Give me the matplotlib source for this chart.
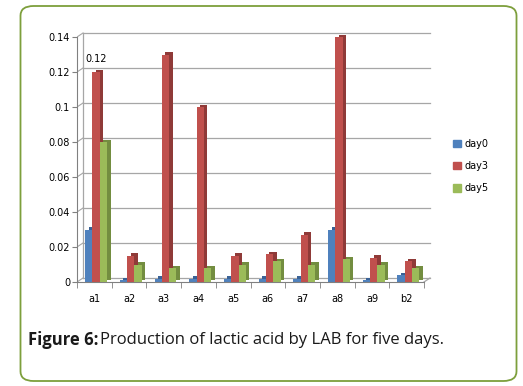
import numpy as np
import matplotlib
matplotlib.use("Agg")
import matplotlib.pyplot as plt
from matplotlib.patches import FancyBboxPatch, Rectangle

# datos
muestras = ['a1', 'a2', 'a3', 'a4', 'a5', 'a6', 'a7', 'a8', 'a9', 'b2']
day0 = [0.030, 0.001, 0.002, 0.002, 0.002, 0.002, 0.002, 0.030, 0.001, 0.004]
day3 = [0.120, 0.015, 0.130, 0.100, 0.015, 0.016, 0.027, 0.140, 0.014, 0.012]
day5 = [0.080, 0.010, 0.008, 0.008, 0.010, 0.012, 0.010, 0.013, 0.010, 0.008]
series = ['day0', 'day3', 'day5']
yticks = [0, 0.02, 0.04, 0.06, 0.08, 0.1, 0.12, 0.14]

colores = ['#4f81bd', '#c0504d', '#9bbb59']
lados = ['#3a6296', '#8f3a38', '#738d40']

W, H = 523, 386
fig = plt.figure(figsize=(W / 100, H / 100), dpi=100)

# marco redondeado verde
marco = FancyBboxPatch((20.5 / W, 1 - 381 / H), 496 / W, 375 / H,
                       boxstyle="round,pad=0,rounding_size=0.025",
                       transform=fig.transFigure, fill=False,
                       edgecolor='#7d9f3c', linewidth=1.3)
fig.patches.append(marco)

px_cat = 34.7
y0, y14 = 282, 37
px_val = (y0 - y14) / 0.14
ax_l, ax_r, ax_t = 77, 434, 28
ax = fig.add_axes([ax_l / W, 1 - y0 / H, (ax_r - ax_l) / W, (y0 - ax_t) / H])
ax.set_xlim(-0.5, -0.5 + (ax_r - ax_l) / px_cat)
ax.set_ylim(0, (y0 - ax_t) / px_val)

dx = 6 / px_cat
dy = 4 / px_val

# pared del fondo y rejilla
for v in yticks:
    ax.plot([-0.5 + dx, 9.5 + dx], [v + dy, v + dy], color='#a6a6a6', lw=0.9, zorder=1)
    ax.plot([-0.5, -0.5 + dx], [v, v + dy], color='#a6a6a6', lw=0.8, zorder=1)
ax.plot([-0.5 + dx, -0.5 + dx], [dy, 0.14 + dy], color='#a6a6a6', lw=0.9, zorder=1)
ax.plot([9.5, 9.5 + dx], [0, dy], color='#a6a6a6', lw=0.9, zorder=1)

x = np.arange(len(muestras))
w = 0.21
despl = [-0.16, 0.05, 0.26]
bd = 3.5 / px_cat
bdy = 2.5 / px_val
for i, datos in enumerate([day0, day3, day5]):
    xs = x + despl[i]
    ax.bar(xs + bd, datos, width=w, bottom=bdy, color=lados[i], zorder=2 + i)
    ax.bar(xs, datos, width=w, color=colores[i], label=series[i], zorder=2.5 + i)

ax.annotate('0.12', (x[0] + despl[1], day3[0]), xytext=(0, 6),
            textcoords='offset points', ha='center', va='bottom', fontsize=7)

ax.spines[['top', 'right']].set_visible(False)
ax.spines['left'].set_bounds(0, 0.14)
ax.spines['bottom'].set_bounds(-0.5, 9.5)
ax.spines['left'].set_color('#808080')
ax.spines['bottom'].set_color('#808080')
ax.set_yticks(yticks)
ax.set_yticklabels(['0', '0.02', '0.04', '0.06', '0.08', '0.1', '0.12', '0.14'], fontsize=7)
ax.set_xticks(x)
ax.set_xticklabels(muestras, fontsize=7)
ax.set_xticks(np.arange(-0.5, 10, 1), minor=True)
ax.tick_params(axis='x', which='major', length=0, pad=9)
ax.tick_params(axis='x', which='minor', length=4, color='#808080', direction='out')
ax.tick_params(axis='y', length=3.5, color='#808080', pad=1.5)
ax.set_facecolor('none')

h = [Rectangle((0, 0), 1, 1, color=c) for c in colores]
fig.legend(h, series, loc='upper left', bbox_to_anchor=(449 / W, 1 - 135 / H),
           frameon=False, fontsize=7, handlelength=0.8, handleheight=0.8,
           labelspacing=1.25, handletextpad=0.4, borderaxespad=0)

fig.text(28 / W, 1 - 340 / H, 'Figure 6:', fontsize=12, fontweight='bold',
         family='Open Sans', va='center', color='#1a1a1a')
fig.text(100 / W, 1 - 340 / H, 'Production of lactic acid by LAB for five days.',
         fontsize=12, family='Open Sans', va='center', color='#1a1a1a')

fig.savefig('out.png', dpi=100)
